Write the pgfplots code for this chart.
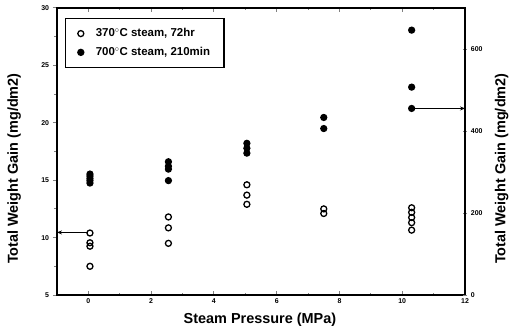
\documentclass[border=0pt]{standalone}
\usepackage{fontspec}
\setmainfont{Liberation Sans}
\usepackage{pgfplots}
\pgfplotsset{compat=1.18}
\usetikzlibrary{arrows.meta}
\begin{document}
\begin{tikzpicture}
\pgfplotsset{
  common/.style={
    width=408bp, height=287bp, scale only axis,
    xmin=-1, xmax=12,
    /pgf/number format/assume math mode=true,
    tick label style={font=\fontsize{7}{8}\selectfont\bfseries},
    label style={font=\fontsize{14.5}{17}\selectfont\bfseries},
    every axis/.append style={line width=1.2bp},
    major tick length=4bp, minor tick length=2.5bp,
  }
}
\begin{axis}[common, name=ax,
  ymin=5, ymax=30,
  xtick={0,2,...,12}, minor x tick num=1,
  ytick={5,10,...,30}, minor y tick num=1,
  xtick pos=both, ytick pos=left,
  x tick style={line width=1bp}, y tick style={line width=1bp},
  xtick align=inside, ytick align=outside,
  axis line style={line width=1.3bp},
  xlabel={Steam Pressure (MPa)},
  ylabel={Total Weight Gain (mg/dm2)},
  xlabel style={at={(axis description cs:0.4975,-0.087)}, anchor=center},
  ylabel style={at={(axis description cs:-0.105,0.44)}, anchor=center, rotate=0},
]
\addplot[only marks, mark=o, mark size=3bp, mark options={line width=1.3bp, black}] coordinates {
(0.05,10.4)(0.05,9.55)(0.05,9.25)(0.05,7.5)
(2.55,11.8)(2.55,10.85)(2.55,9.5)
(5.05,14.6)(5.05,13.7)(5.05,12.9)
(7.5,12.5)(7.5,12.1)
(10.3,12.6)(10.3,12.2)(10.3,11.75)(10.3,11.3)(10.3,10.65)
};
\addplot[black, line width=1.2bp, -{Stealth[length=5bp,width=4bp]}, shorten <=3bp] coordinates {(0.05,10.45)(-1,10.45)};
\end{axis}
\begin{axis}[common,
  ymin=0, ymax=700,
  axis x line=none, axis y line*=right,
  ytick={0,200,400,600}, minor y tick num=1,
  ytick align=center, y tick style={line width=1bp},
  axis line style={line width=1.3bp},
  ylabel={Total Weight Gain (mg/dm2)},
  ylabel style={at={(axis description cs:1.09,0.44)}, anchor=center, rotate=0},
  legend style={at={(0.02,0.965)}, anchor=north west, draw=black, line width=1.3bp,
    font=\fontsize{11.5}{13}\selectfont\bfseries, inner xsep=12bp, inner ysep=8bp,
    row sep=5bp, column sep=10bp, legend cell align=left},
]
\addlegendimage{only marks, mark=o, mark size=3bp, mark options={line width=1.3bp, black}}
\addlegendentry{370$^{\circ}$C steam, 72hr}
\addplot[only marks, mark=*, mark size=3bp, mark options={black, fill=black}] coordinates {
(0.05,295)(0.05,290)(0.05,284)(0.05,279)(0.05,273)
(2.55,325)(2.55,314)(2.55,307)(2.55,279)
(5.05,370)(5.05,358)(5.05,346)
(7.5,433)(7.5,406)
(10.3,646)(10.3,507)(10.3,455)
};
\addlegendentry{700$^{\circ}$C steam, 210min}
\addplot[black, line width=1.2bp, -{Stealth[length=5bp,width=4bp]}, shorten <=3bp, forget plot] coordinates {(10.3,455)(12,455)};
\end{axis}
\path ([xshift=-57bp,yshift=-37bp]ax.south west) ([xshift=50bp,yshift=8bp]ax.north east);
\end{tikzpicture}
\end{document}
